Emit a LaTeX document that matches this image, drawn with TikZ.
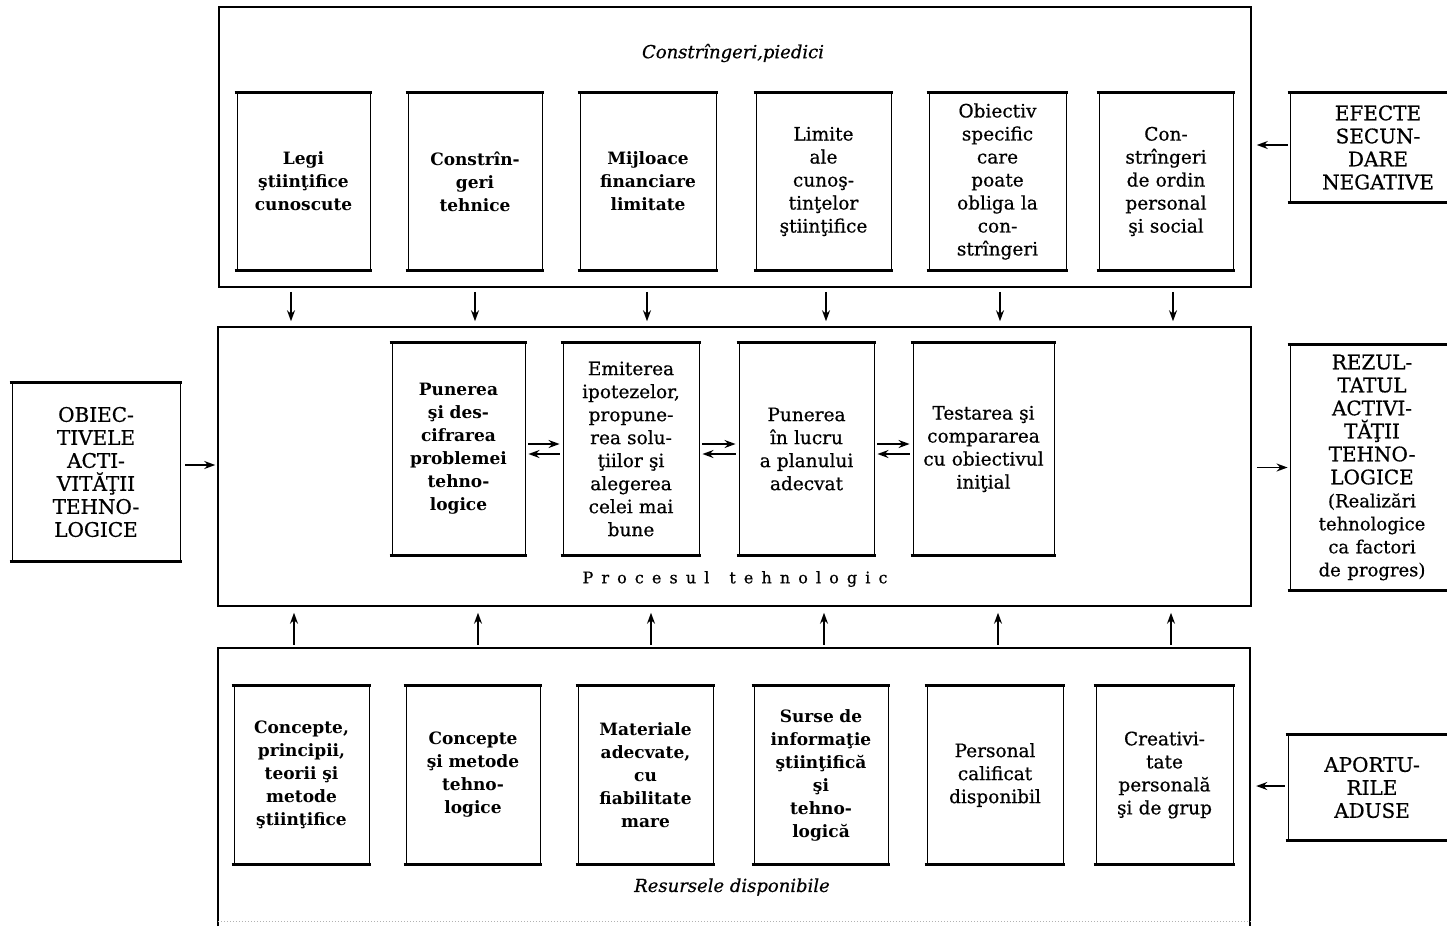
\documentclass[tikz,border=0pt]{standalone}
\usepackage{fontspec}
\setmainfont{DejaVu Serif}
\newfontfamily\medfont[FakeBold=0.6]{DejaVu Serif}
\usetikzlibrary{arrows.meta}
\newcommand{\lsp}{\kern8.1pt}
\begin{document}
\begin{tikzpicture}[x=1pt,y=-1pt,
  box/.style={draw, line width=0.9pt, inner sep=0pt, align=center, font=\medfont\fontsize{18.5}{23}\selectfont},
  boldbox/.style={box, font=\fontsize{17}{23}\selectfont\bfseries},
  capbox/.style={box, font=\medfont\fontsize{20}{23}\selectfont},
  tb/.style={minimum width=#1pt, text width=#1pt-6pt, minimum height=177pt},
  mb/.style={minimum width=#1pt, text width=#1pt-6pt, minimum height=212pt},
  bb/.style={minimum width=#1pt, text width=#1pt-6pt, minimum height=178pt},
  frame/.style={draw, line width=1.5pt, inner sep=0pt},
  arr/.style={-{Stealth[length=11pt,width=8pt]}, line width=1.5pt},
  hline/.style={line width=2.2pt},
  caption/.style={font=\medfont\fontsize{18}{20}\selectfont\itshape}
]
\useasboundingbox (0,0) rectangle (1447,926);
\clip (0,0) rectangle (1447,926);

% frames
\node[frame, minimum width=1032pt, minimum height=280pt] (topframe) at (735,147) {};
\node[frame, minimum width=1033pt, minimum height=279pt] (midframe) at (734.5,466.5) {};
\node[inner sep=0pt, minimum width=1032pt, minimum height=273pt] (botframe) at (734,784.5) {};
\draw[line width=1.5pt] ([yshift=-5pt]botframe.south west) -- (botframe.north west) -- (botframe.north east) -- ([yshift=-5pt]botframe.south east);
\draw[gray!60, dotted, line width=1pt] (botframe.south west) -- (botframe.south east);

% captions
\node[caption] (ctop) at (733,53) {Constrîngeri,piedici};
\node[caption] (cbot) at (732,887) {Resursele disponibile};
\node[font=\medfont\fontsize{16}{20}\selectfont] (cmid) at (735,579)
  {P\lsp r\lsp o\lsp c\lsp e\lsp s\lsp u\lsp l\hspace{20pt}t\lsp e\lsp h\lsp n\lsp o\lsp l\lsp o\lsp g\lsp i\lsp c};

% top boxes
\node[boldbox, tb=133] (t1) at (303.5,181.5) {Legi\\ştiinţifice\\cunoscute};
\node[boldbox, tb=134] (t2) at (475,181.5) {Constrîn-\\geri\\tehnice};
\node[boldbox, tb=136] (t3) at (648,181.5) {Mijloace\\financiare\\limitate};
\node[box, tb=135] (t4) at (823.5,181.5) {Limite\\ale\\cunoş-\\tinţelor\\ştiinţifice};
\node[box, tb=137] (t5) at (997.5,181.5) {Obiectiv\\specific\\care\\poate\\obliga la\\con-\\strîngeri};
\node[box, tb=134] (t6) at (1166,181.5) {Con-\\strîngeri\\de ordin\\personal\\şi social};

% middle boxes
\node[boldbox, mb=133] (m1) at (458.5,449) {Punerea\\şi des-\\cifrarea\\problemei\\tehno-\\logice};
\node[box, mb=136] (m2) at (631,449) {Emiterea\\ipotezelor,\\propune-\\rea solu-\\ţiilor şi\\alegerea\\celei mai\\bune};
\node[box, mb=135] (m3) at (806.5,449) {Punerea\\în lucru\\a planului\\adecvat};
\node[box, mb=141] (m4) at (983.5,449) {Testarea şi\\compararea\\cu obiectivul\\iniţial};

% bottom boxes
\node[boldbox, bb=135] (b1) at (301.5,775) {Concepte,\\principii,\\teorii şi\\metode\\ştiinţifice};
\node[boldbox, bb=134] (b2) at (473,775) {Concepte\\şi metode\\tehno-\\logice};
\node[boldbox, bb=135] (b3) at (645.5,775) {Materiale\\adecvate,\\cu\\fiabilitate\\mare};
\node[boldbox, bb=134] (b4) at (821,775) {Surse de\\informaţie\\ştiinţifică\\şi\\tehno-\\logică};
\node[box, bb=136] (b5) at (995,775) {Personal\\calificat\\disponibil};
\node[box, bb=137] (b6) at (1164.5,775) {Creativi-\\tate\\personală\\şi de grup};

% side boxes
\node[capbox, minimum width=168pt, text width=160pt, minimum height=178pt] (obj) at (96,472)
  {OBIEC-\\TIVELE\\ACTI-\\VITĂŢII\\TEHNO-\\LOGICE};
\node[capbox, minimum width=176pt, text width=168pt, minimum height=109pt] (efe) at (1378,147.5)
  {EFECTE\\SECUN-\\DARE\\NEGATIVE};
\node[capbox, minimum width=164pt, text width=156pt, minimum height=245pt] (rez) at (1372,467.5)
  {REZUL-\\TATUL\\ACTIVI-\\TĂŢII\\TEHNO-\\LOGICE\\\fontsize{18}{23}\selectfont(Realizări\\tehnologice\\ca factori\\de progres)};
\node[capbox, minimum width=168pt, text width=160pt, minimum height=105pt] (apo) at (1372,787.5)
  {APORTU-\\RILE\\ADUSE};

% heavy top and bottom rules of the boxes
\foreach \n in {t1,t2,t3,t4,t5,t6,m1,m2,m3,m4,b1,b2,b3,b4,b5,b6,obj,efe,rez,apo} {
  \draw[hline] ([xshift=-2pt]\n.north west) -- ([xshift=2pt]\n.north east);
  \draw[hline] ([xshift=-2pt]\n.south west) -- ([xshift=2pt]\n.south east);
}

% constraints -> process
\draw[arr, shorten <=4pt, shorten >=5pt] ([xshift=-12.5pt]t1.south |- topframe.south) -- ([xshift=-12.5pt]t1.south |- midframe.north);
\draw[arr, shorten <=4pt, shorten >=5pt] (t2.south |- topframe.south) -- (t2.south |- midframe.north);
\draw[arr, shorten <=4pt, shorten >=5pt] ([xshift=-1pt]t3.south |- topframe.south) -- ([xshift=-1pt]t3.south |- midframe.north);
\draw[arr, shorten <=4pt, shorten >=5pt] ([xshift=2.5pt]t4.south |- topframe.south) -- ([xshift=2.5pt]t4.south |- midframe.north);
\draw[arr, shorten <=4pt, shorten >=5pt] ([xshift=2.5pt]t5.south |- topframe.south) -- ([xshift=2.5pt]t5.south |- midframe.north);
\draw[arr, shorten <=4pt, shorten >=5pt] ([xshift=7pt]t6.south |- topframe.south) -- ([xshift=7pt]t6.south |- midframe.north);

% resources -> process
\draw[arr, shorten <=3pt, shorten >=6pt] ([xshift=-7.5pt]b1.north |- botframe.north) -- ([xshift=-7.5pt]b1.north |- midframe.south);
\draw[arr, shorten <=3pt, shorten >=6pt] ([xshift=5pt]b2.north |- botframe.north) -- ([xshift=5pt]b2.north |- midframe.south);
\draw[arr, shorten <=3pt, shorten >=6pt] ([xshift=5.5pt]b3.north |- botframe.north) -- ([xshift=5.5pt]b3.north |- midframe.south);
\draw[arr, shorten <=3pt, shorten >=6pt] ([xshift=3pt]b4.north |- botframe.north) -- ([xshift=3pt]b4.north |- midframe.south);
\draw[arr, shorten <=3pt, shorten >=6pt] ([xshift=3pt]b5.north |- botframe.north) -- ([xshift=3pt]b5.north |- midframe.south);
\draw[arr, shorten <=3pt, shorten >=6pt] ([xshift=6.5pt]b6.north |- botframe.north) -- ([xshift=6.5pt]b6.north |- midframe.south);

% double arrows between process steps
\foreach \a/\b in {m1/m2, m2/m3, m3/m4} {
  \draw[arr, shorten <=3pt, shorten >=3pt] ([yshift=5pt]\a.east) -- ([yshift=5pt]\b.west);
  \draw[arr, shorten <=3pt, shorten >=3pt] ([yshift=-5pt]\b.west) -- ([yshift=-5pt]\a.east);
}

% side arrows
\draw[arr, shorten <=5pt, shorten >=2pt] ([yshift=7pt]obj.east) -- ([yshift=7pt]obj.east -| midframe.west);
\draw[arr, shorten <=5pt, shorten >=2pt] (midframe.east |- rez.west) -- (rez.west);
\draw[arr, shorten <=2pt, shorten >=5pt] ([yshift=2.5pt]efe.west) -- ([yshift=2.5pt]efe.west -| topframe.east);
\draw[arr, shorten <=3pt, shorten >=6pt] ([yshift=1.5pt]apo.west) -- ([yshift=1.5pt]apo.west -| botframe.east);
\end{tikzpicture}
\end{document}
